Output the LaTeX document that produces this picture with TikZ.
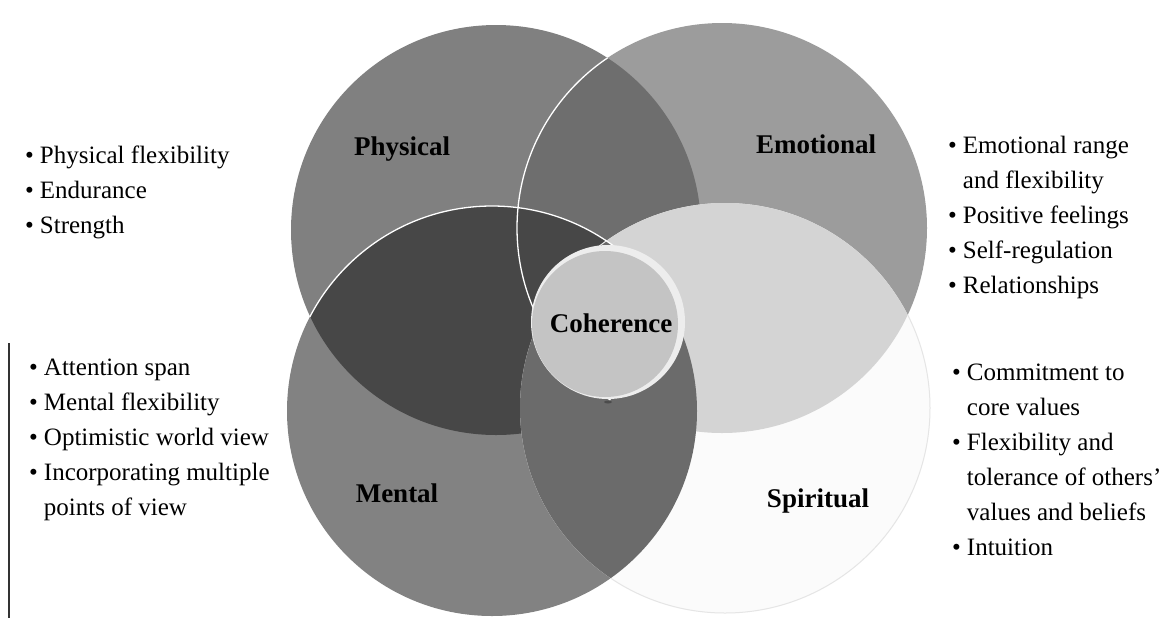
\documentclass[tikz,border=0pt]{standalone}
\usepackage{fontspec}
\setmainfont{Liberation Serif}
\definecolor{cP}{gray}{0.50}
\definecolor{cE}{gray}{0.61}
\definecolor{cPE}{gray}{0.43}
\definecolor{cM}{gray}{0.51}
\definecolor{cPM}{gray}{0.28}
\definecolor{cS}{gray}{0.985}
\definecolor{cES}{gray}{0.83}
\definecolor{cMS}{gray}{0.42}
\definecolor{cC}{gray}{0.77}
\definecolor{cCring}{gray}{0.93}
\begin{document}
\begin{tikzpicture}[x=1pt,y=-1pt,
  lab/.style={font=\fontsize{27}{30}\selectfont\bfseries, inner sep=0pt, anchor=base},
  lst/.style={font=\fontsize{25}{35}\selectfont, inner sep=0pt, anchor=base west},
  whiteedge/.style={white, line width=1.3pt}]
\useasboundingbox (0,0) rectangle (1167,625);
\fill[white] (0,0) rectangle (1167,625);
\def\R{205pt}
\coordinate (P) at (496,230);
\coordinate (E) at (722,228);
\coordinate (M) at (492,411);
\coordinate (S) at (725,408);
\coordinate (C) at (608,322);
\coordinate (Ci) at (605,324);
% base circles
\fill[cP] (P) circle[radius=\R];
\fill[cE] (E) circle[radius=\R];
\begin{scope}
  \clip (P) circle[radius=\R];
  \fill[cPE] (E) circle[radius=\R];
\end{scope}
\fill[cM] (M) circle[radius=\R];
\begin{scope}
  \clip (M) circle[radius=\R];
  \fill[cPM] (P) circle[radius=\R];
\end{scope}
\fill[cS] (S) circle[radius=\R];
\begin{scope}
  \clip (S) circle[radius=\R];
  \fill[cES] (E) circle[radius=\R];
  \fill[cMS] (M) circle[radius=\R];
\end{scope}
% faint outline of the spiritual circle
\begin{scope}[even odd rule]
  \clip (0,0) rectangle (1167,625) (E) circle[radius=\R] (M) circle[radius=\R];
  \draw[black!10, line width=1pt] (S) circle[radius=\R];
\end{scope}
% white edges inside the physical circle
\begin{scope}
  \clip (P) circle[radius=\R];
  \draw[whiteedge] (E) circle[radius=\R];
  \draw[whiteedge] (M) circle[radius=\R];
\end{scope}
% coherence
\fill[cCring] (C) circle[radius=77pt];
\fill[cC] (Ci) circle[radius=73pt];
\fill[black!70] (608,402) ellipse[x radius=4pt, y radius=1.5pt];
% labels
\node[lab] (lphys) at (402,155) {Physical};
\node[lab] (lemo) at (816,153) {Emotional};
\node[lab] (lment) at (397,502) {Mental};
\node[lab] (lspir) at (818,507) {Spiritual};
\node[lab] (lcoh) at (611,332) {Coherence};
% lists
\node[lst] (listp) at (25,163) {\begin{tabular}[t]{@{}l@{\hspace{6pt}}l@{}}
\textbullet & Physical flexibility\\
\textbullet & Endurance\\
\textbullet & Strength
\end{tabular}};
\node[lst] (listm) at (29,375) {\begin{tabular}[t]{@{}l@{\hspace{6pt}}l@{}}
\textbullet & Attention span\\
\textbullet & Mental flexibility\\
\textbullet & Optimistic world view\\
\textbullet & Incorporating multiple\\
 & points of view
\end{tabular}};
\node[lst] (liste) at (948,153) {\begin{tabular}[t]{@{}l@{\hspace{6pt}}l@{}}
\textbullet & Emotional range\\
 & and flexibility\\
\textbullet & Positive feelings\\
\textbullet & Self-regulation\\
\textbullet & Relationships
\end{tabular}};
\node[lst] (lists) at (952,380) {\begin{tabular}[t]{@{}l@{\hspace{6pt}}l@{}}
\textbullet & Commitment to\\
 & core values\\
\textbullet & Flexibility and\\
 & tolerance of others'\\
 & values and beliefs\\
\textbullet & Intuition
\end{tabular}};
% scan edge line
\coordinate (vt) at (9,343);
\coordinate (vb) at (9,618);
\draw[black!80, line width=1.3pt] (vt) -- (vb);
\end{tikzpicture}
\end{document}
